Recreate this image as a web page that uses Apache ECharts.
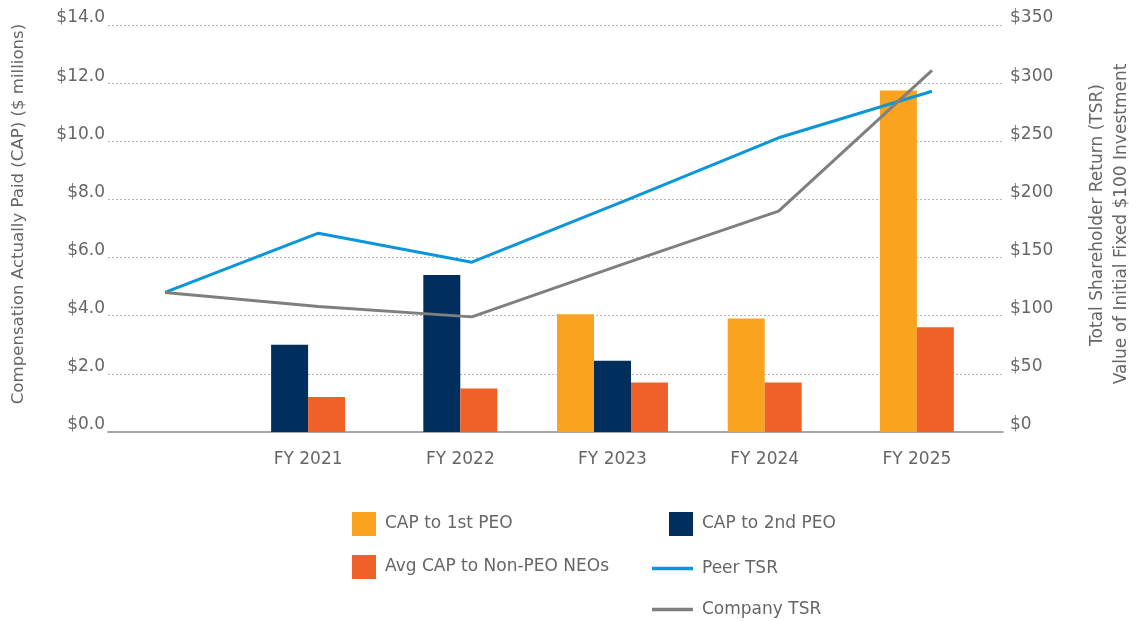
<!DOCTYPE html>
<html><head><meta charset="utf-8">
<script src="https://cdn.jsdelivr.net/npm/echarts@6/dist/echarts.min.js"></script>
<style>html,body{margin:0;padding:0;background:#fff}#c{width:1136px;height:621px}</style>
</head><body><div id="c"></div>
<script>
// ---- data ----
const years = ["FY 2021", "FY 2022", "FY 2023", "FY 2024", "FY 2025"];
const tsrPoints = ["Start", "FY 2021", "FY 2022", "FY 2023", "FY 2024", "FY 2025"];
const cap1stPEO = [null, null, 4.05, 3.9, 11.75];
const cap2ndPEO = [3.0, 5.4, 2.45, null, null];
const avgNonPEO = [1.2, 1.5, 1.7, 1.7, 3.6];
const peerTSR = [120, 171, 146, 199, 253, 293];
const companyTSR = [120, 108, 99, 145, 190, 311];
const capTicks = [0, 2, 4, 6, 8, 10, 12, 14];
const tsrTicks = [0, 50, 100, 150, 200, 250, 300, 350];

const FONT = 'DejaVu Sans';
const TXT = '#666666';
const C1 = '#F9A31E', C2 = '#002F5D', C3 = '#F0612A', CP = '#0A96D9', CC = '#7F7F7F';

const barSets = [cap1stPEO, cap2ndPEO, avgNonPEO];
function makeRender(setIdx) {
  return function (params, api) {
    const cat = api.value(0);
    const v = api.value(1);
    if (v == null || isNaN(v)) return null;
    const present = [];
    barSets.forEach(function (s, k) { if (s[cat] != null) present.push(k); });
    const n = present.length, slot = present.indexOf(setIdx);
    const bw = api.size([1, 0])[0] * 0.243;
    const base = api.coord([cat, 0]);
    const top = api.coord([cat, v]);
    const x0 = base[0] - n * bw / 2 + slot * bw;
    return { type: 'rect', shape: { x: x0, y: top[1], width: bw, height: base[1] - top[1] },
             style: { fill: api.visual('color') } };
  };
}
function toData(arr) {
  const out = [];
  arr.forEach(function (v, i) { if (v != null) out.push([i, v]); });
  return out;
}

const chart = echarts.init(document.getElementById('c'), null, { renderer: 'canvas' });
const textStyle = { fontFamily: FONT, fontSize: 17, color: TXT, padding: [0, 0, 0, 4] };
function legendAt(name, left, top, icon, w) {
  return { left: left, top: top, padding: 0, itemWidth: w, itemHeight: 24, icon: icon,
           selectedMode: false, textStyle: textStyle, data: [name] };
}
const lineIcon = 'path://M0,0H41V3.3H0Z';

chart.setOption({
  animation: false,
  backgroundColor: '#ffffff',
  textStyle: { fontFamily: FONT },
  grid: [
    { left: 108, right: 133, top: 25, bottom: 189 },
    { left: 232, right: 143, top: 25, bottom: 189 },
    { left: 165, right: 204, top: 25, bottom: 189 }
  ],
  legend: [
    legendAt('CAP to 1st PEO', 352, 512, 'rect', 24),
    legendAt('Avg CAP to Non-PEO NEOs', 352, 555, 'rect', 24),
    legendAt('CAP to 2nd PEO', 669, 512, 'rect', 24),
    legendAt('Peer TSR', 652, 560, lineIcon, 41),
    legendAt('Company TSR', 652, 601, lineIcon, 41)
  ],
  xAxis: [
    { gridIndex: 0, type: 'value', min: 0, max: 1,
      axisLine: { show: true, lineStyle: { color: '#A6A6A6', width: 2 } },
      axisTick: { show: false }, axisLabel: { show: false }, splitLine: { show: false } },
    { gridIndex: 1, type: 'category', data: years,
      axisLine: { show: false }, axisTick: { show: false },
      axisLabel: { fontFamily: FONT, fontSize: 17, color: TXT, margin: 19 } },
    { gridIndex: 2, type: 'category', data: tsrPoints, boundaryGap: false, show: false }
  ],
  yAxis: [
    { gridIndex: 0, type: 'value', min: 0, max: 14, interval: 2, position: 'left',
      axisLine: { show: false }, axisTick: { show: false },
      axisLabel: { fontFamily: FONT, fontSize: 17, color: TXT, margin: 3, verticalAlign: 'bottom', lineHeight: 14,
                   formatter: function (v) { return capTicks.indexOf(v) >= 0 ? '$' + v.toFixed(1) : ''; } },
      splitLine: { show: true, lineStyle: { type: [2, 2], color: '#B5B5B5', width: 1 } } },
    { gridIndex: 0, type: 'value', min: 0, max: 350, interval: 50, position: 'right',
      axisLine: { show: false }, axisTick: { show: false }, splitLine: { show: false },
      axisLabel: { fontFamily: FONT, fontSize: 17, color: TXT, margin: 7, verticalAlign: 'bottom', lineHeight: 14,
                   formatter: function (v) { return tsrTicks.indexOf(v) >= 0 ? '$' + v : ''; } } },
    { gridIndex: 1, type: 'value', min: 0, max: 14, show: false },
    { gridIndex: 2, type: 'value', min: 0, max: 350, show: false }
  ],
  graphic: [
    { type: 'text', x: 19, y: 214, rotation: Math.PI / 2,
      style: { text: 'Compensation Actually Paid (CAP) ($ millions)', fontFamily: FONT, fontSize: 16.6,
               fill: TXT, textAlign: 'center', textVerticalAlign: 'middle' } },
    { type: 'text', x: 1098, y: 215, rotation: Math.PI / 2,
      style: { text: 'Total Shareholder Return (TSR)', fontFamily: FONT, fontSize: 17,
               fill: TXT, textAlign: 'center', textVerticalAlign: 'middle' } },
    { type: 'text', x: 1122, y: 224, rotation: Math.PI / 2,
      style: { text: 'Value of Initial Fixed $100 Investment', fontFamily: FONT, fontSize: 17,
               fill: TXT, textAlign: 'center', textVerticalAlign: 'middle' } }
  ],
  series: [
    { name: 'CAP to 1st PEO', type: 'custom', xAxisIndex: 1, yAxisIndex: 2, itemStyle: { color: C1 },
      encode: { x: 0, y: 1 }, renderItem: makeRender(0), data: toData(cap1stPEO), z: 2 },
    { name: 'CAP to 2nd PEO', type: 'custom', xAxisIndex: 1, yAxisIndex: 2, itemStyle: { color: C2 },
      encode: { x: 0, y: 1 }, renderItem: makeRender(1), data: toData(cap2ndPEO), z: 2 },
    { name: 'Avg CAP to Non-PEO NEOs', type: 'custom', xAxisIndex: 1, yAxisIndex: 2, itemStyle: { color: C3 },
      encode: { x: 0, y: 1 }, renderItem: makeRender(2), data: toData(avgNonPEO), z: 2 },
    { name: 'Peer TSR', type: 'line', xAxisIndex: 2, yAxisIndex: 3, data: peerTSR, symbol: 'none',
      itemStyle: { color: CP }, lineStyle: { color: CP, width: 3 }, z: 5 },
    { name: 'Company TSR', type: 'line', xAxisIndex: 2, yAxisIndex: 3, data: companyTSR, symbol: 'none',
      itemStyle: { color: CC }, lineStyle: { color: CC, width: 3 }, z: 5 }
  ]
});
</script></body></html>
